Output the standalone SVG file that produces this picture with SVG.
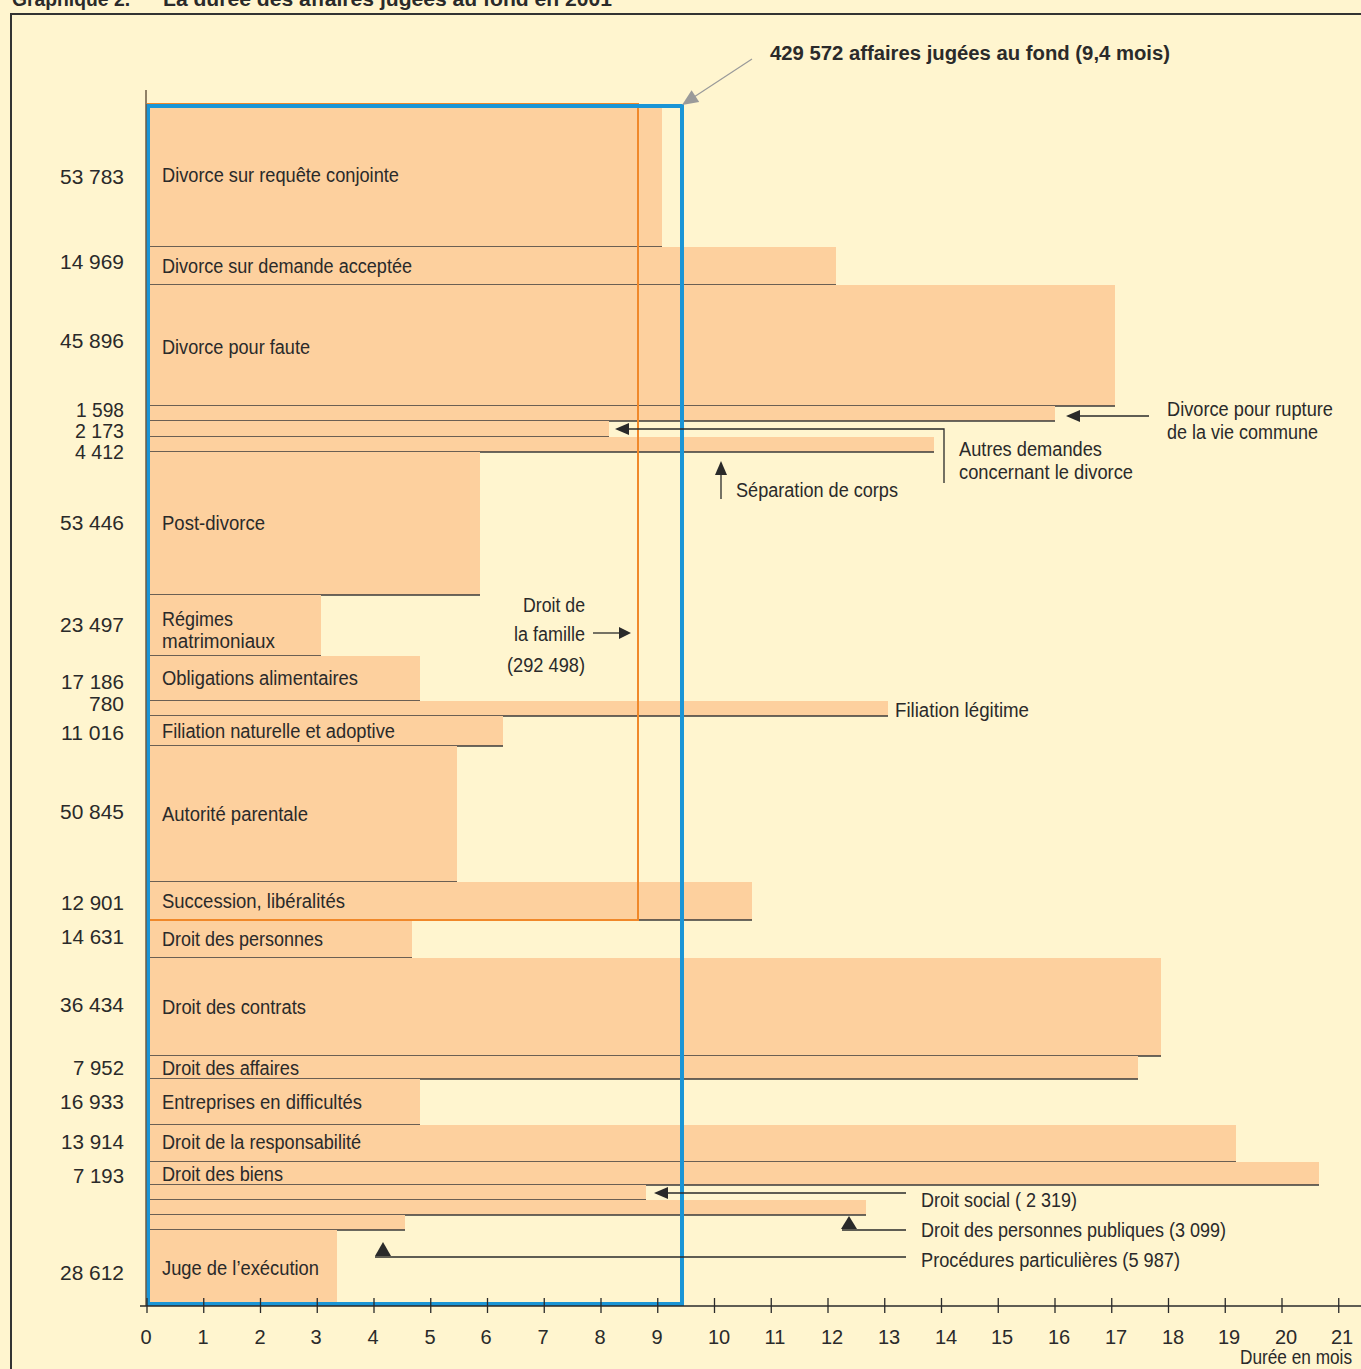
<svg xmlns="http://www.w3.org/2000/svg" width="1361" height="1369" viewBox="0 0 1361 1369">
<style>
.t{font-family:"Liberation Sans",Arial,sans-serif;font-size:20px;fill:#2a2a2a}
.b{font-weight:bold}
.n{text-anchor:end}
.m{text-anchor:middle}
.bar{fill:#FDD09E}
.bl{stroke:#3a3a3a;stroke-width:1.5;fill:none}
.cn{stroke:#2a2a2a;stroke-width:1.3;fill:none}
.ah{fill:#2a2a2a}
</style>
<rect x="0" y="0" width="1361" height="1369" fill="#FFF5CF"/>
<g id="title">
<text class="t b" x="12" y="6" font-size="21" textLength="118" lengthAdjust="spacingAndGlyphs">Graphique 2.</text>
<text class="t b" x="163" y="6" font-size="21" textLength="449" lengthAdjust="spacingAndGlyphs">La durée des affaires jugées au fond en 2001</text>
</g>
<g id="frame"><path d="M11 1369 V14 H1361" fill="none" stroke="#333" stroke-width="2"/></g>

<g id="bars">
<g id="n1"><rect class="bar" x="148" y="105" width="514" height="142"/><line class="bl" x1="149" y1="247" x2="662" y2="247"/>
<text class="t n" x="124" y="184" textLength="64" lengthAdjust="spacingAndGlyphs">53 783</text>
<text class="t" x="162" y="182" textLength="237" lengthAdjust="spacingAndGlyphs">Divorce sur requête conjointe</text></g>
<g id="n2"><rect class="bar" x="148" y="247" width="688" height="38"/><line class="bl" x1="149" y1="285" x2="836" y2="285"/>
<text class="t n" x="124" y="269" textLength="64" lengthAdjust="spacingAndGlyphs">14 969</text>
<text class="t" x="162" y="273" textLength="250" lengthAdjust="spacingAndGlyphs">Divorce sur demande acceptée</text></g>
<g id="n3"><rect class="bar" x="148" y="285" width="967" height="121"/><line class="bl" x1="149" y1="406" x2="1115" y2="406"/>
<text class="t n" x="124" y="348" textLength="64" lengthAdjust="spacingAndGlyphs">45 896</text>
<text class="t" x="162" y="354" textLength="148" lengthAdjust="spacingAndGlyphs">Divorce pour faute</text></g>
<g id="n4"><rect class="bar" x="148" y="406" width="907" height="15"/><line class="bl" x1="149" y1="421" x2="1055" y2="421"/>
<text class="t n" x="124" y="417" textLength="48" lengthAdjust="spacingAndGlyphs">1 598</text>
<text class="t" x="1167" y="416" textLength="166" lengthAdjust="spacingAndGlyphs">Divorce pour rupture</text>
<text class="t" x="1167" y="439" textLength="151" lengthAdjust="spacingAndGlyphs">de la vie commune</text></g>
<g id="n5"><rect class="bar" x="148" y="421" width="461" height="16"/><line class="bl" x1="149" y1="437" x2="609" y2="437"/>
<text class="t n" x="124" y="438" textLength="49" lengthAdjust="spacingAndGlyphs">2 173</text>
<text class="t" x="959" y="456" textLength="143" lengthAdjust="spacingAndGlyphs">Autres demandes</text>
<text class="t" x="959" y="479" textLength="174" lengthAdjust="spacingAndGlyphs">concernant le divorce</text></g>
<g id="n6"><rect class="bar" x="148" y="437" width="786" height="15"/><line class="bl" x1="149" y1="452" x2="934" y2="452"/>
<text class="t n" x="124" y="459" textLength="49" lengthAdjust="spacingAndGlyphs">4 412</text>
<text class="t" x="736" y="497" textLength="162" lengthAdjust="spacingAndGlyphs">Séparation de corps</text></g>
<g id="n7"><rect class="bar" x="148" y="452" width="332" height="143"/><line class="bl" x1="149" y1="595" x2="480" y2="595"/>
<text class="t n" x="124" y="530" textLength="64" lengthAdjust="spacingAndGlyphs">53 446</text>
<text class="t" x="162" y="530" textLength="103" lengthAdjust="spacingAndGlyphs">Post-divorce</text></g>
<g id="n8"><rect class="bar" x="148" y="595" width="173" height="61"/><line class="bl" x1="149" y1="656" x2="321" y2="656"/>
<text class="t n" x="124" y="632" textLength="64" lengthAdjust="spacingAndGlyphs">23 497</text>
<text class="t" x="162" y="626" textLength="71" lengthAdjust="spacingAndGlyphs">Régimes</text>
<text class="t" x="162" y="648" textLength="113" lengthAdjust="spacingAndGlyphs">matrimoniaux</text></g>
<g id="n9"><rect class="bar" x="148" y="656" width="272" height="45"/><line class="bl" x1="149" y1="701" x2="420" y2="701"/>
<text class="t n" x="124" y="689" textLength="63" lengthAdjust="spacingAndGlyphs">17 186</text>
<text class="t" x="162" y="685" textLength="196" lengthAdjust="spacingAndGlyphs">Obligations alimentaires</text></g>
<g id="n10"><rect class="bar" x="148" y="701" width="740" height="15"/><line class="bl" x1="149" y1="716" x2="888" y2="716"/>
<text class="t n" x="124" y="711" textLength="35" lengthAdjust="spacingAndGlyphs">780</text>
<text class="t" x="895" y="717" textLength="134" lengthAdjust="spacingAndGlyphs">Filiation légitime</text></g>
<g id="n11"><rect class="bar" x="148" y="716" width="355" height="30"/><line class="bl" x1="149" y1="746" x2="503" y2="746"/>
<text class="t n" x="124" y="740" textLength="63" lengthAdjust="spacingAndGlyphs">11 016</text>
<text class="t" x="162" y="738" textLength="233" lengthAdjust="spacingAndGlyphs">Filiation naturelle et adoptive</text></g>
<g id="n12"><rect class="bar" x="148" y="746" width="309" height="136"/><line class="bl" x1="149" y1="882" x2="457" y2="882"/>
<text class="t n" x="124" y="819" textLength="64" lengthAdjust="spacingAndGlyphs">50 845</text>
<text class="t" x="162" y="821" textLength="146" lengthAdjust="spacingAndGlyphs">Autorité parentale</text></g>
<g id="n13"><rect class="bar" x="148" y="882" width="604" height="38"/><line class="bl" x1="149" y1="920" x2="752" y2="920"/>
<text class="t n" x="124" y="910" textLength="63" lengthAdjust="spacingAndGlyphs">12 901</text>
<text class="t" x="162" y="908" textLength="183" lengthAdjust="spacingAndGlyphs">Succession, libéralités</text></g>
<g id="n14"><rect class="bar" x="148" y="920" width="264" height="38"/><line class="bl" x1="149" y1="958" x2="412" y2="958"/>
<text class="t n" x="124" y="944" textLength="63" lengthAdjust="spacingAndGlyphs">14 631</text>
<text class="t" x="162" y="946" textLength="161" lengthAdjust="spacingAndGlyphs">Droit des personnes</text></g>
<g id="n15"><rect class="bar" x="148" y="958" width="1013" height="98"/><line class="bl" x1="149" y1="1056" x2="1161" y2="1056"/>
<text class="t n" x="124" y="1012" textLength="64" lengthAdjust="spacingAndGlyphs">36 434</text>
<text class="t" x="162" y="1014" textLength="144" lengthAdjust="spacingAndGlyphs">Droit des contrats</text></g>
<g id="n16"><rect class="bar" x="148" y="1056" width="990" height="23"/><line class="bl" x1="149" y1="1079" x2="1138" y2="1079"/>
<text class="t n" x="124" y="1075" textLength="51" lengthAdjust="spacingAndGlyphs">7 952</text>
<text class="t" x="162" y="1075" textLength="137" lengthAdjust="spacingAndGlyphs">Droit des affaires</text></g>
<g id="n17"><rect class="bar" x="148" y="1079" width="272" height="46"/><line class="bl" x1="149" y1="1125" x2="420" y2="1125"/>
<text class="t n" x="124" y="1109" textLength="64" lengthAdjust="spacingAndGlyphs">16 933</text>
<text class="t" x="162" y="1109" textLength="200" lengthAdjust="spacingAndGlyphs">Entreprises en difficultés</text></g>
<g id="n18"><rect class="bar" x="148" y="1125" width="1088" height="37"/><line class="bl" x1="149" y1="1162" x2="1236" y2="1162"/>
<text class="t n" x="124" y="1149" textLength="63" lengthAdjust="spacingAndGlyphs">13 914</text>
<text class="t" x="162" y="1149" textLength="199" lengthAdjust="spacingAndGlyphs">Droit de la responsabilité</text></g>
<g id="n19"><rect class="bar" x="148" y="1162" width="1171" height="23"/><line class="bl" x1="149" y1="1185" x2="1319" y2="1185"/>
<text class="t n" x="124" y="1183" textLength="51" lengthAdjust="spacingAndGlyphs">7 193</text>
<text class="t" x="162" y="1181" textLength="121" lengthAdjust="spacingAndGlyphs">Droit des biens</text></g>
<g id="n20"><rect class="bar" x="148" y="1185" width="498" height="15"/><line class="bl" x1="149" y1="1200" x2="646" y2="1200"/>
<text class="t" x="921" y="1207" textLength="156" lengthAdjust="spacingAndGlyphs">Droit social ( 2 319)</text></g>
<g id="n21"><rect class="bar" x="148" y="1200" width="718" height="15"/><line class="bl" x1="149" y1="1215" x2="866" y2="1215"/>
<text class="t" x="921" y="1237" textLength="305" lengthAdjust="spacingAndGlyphs">Droit des personnes publiques (3 099)</text></g>
<g id="n22"><rect class="bar" x="148" y="1215" width="257" height="15"/><line class="bl" x1="149" y1="1230" x2="405" y2="1230"/>
<text class="t" x="921" y="1267" textLength="259" lengthAdjust="spacingAndGlyphs">Procédures particulières (5 987)</text></g>
<g id="n23"><rect class="bar" x="148" y="1230" width="189" height="75"/>
<text class="t n" x="124" y="1280" textLength="64" lengthAdjust="spacingAndGlyphs">28 612</text>
<text class="t" x="162" y="1275" textLength="157" lengthAdjust="spacingAndGlyphs">Juge de l’exécution</text></g>
</g>

<g id="famille">
<rect x="148" y="104" width="490" height="816" fill="none" stroke="#F0882A" stroke-width="2"/>
<text class="t n" x="585" y="612" textLength="62" lengthAdjust="spacingAndGlyphs">Droit de</text>
<text class="t n" x="585" y="641" textLength="71" lengthAdjust="spacingAndGlyphs">la famille</text>
<text class="t n" x="585" y="672" textLength="78" lengthAdjust="spacingAndGlyphs">(292 498)</text>
</g>

<g id="total">
<rect x="148" y="106" width="534" height="1198" fill="none" stroke="#1A95D6" stroke-width="4"/>
<text class="t b" x="770" y="60" font-size="22" textLength="400" lengthAdjust="spacingAndGlyphs">429 572 affaires jugées au fond (9,4 mois)</text>
</g>

<g id="axes">
<line x1="146" y1="90" x2="146" y2="1306" stroke="#6b5a45" stroke-width="1.5"/>
<line x1="140" y1="1306" x2="1361" y2="1306" stroke="#2a2a2a" stroke-width="1.5"/>
<path stroke="#2a2a2a" stroke-width="1.3" d="M147 1298V1313M203.75 1298V1313M260.5 1298V1313M317.25 1298V1313M374 1298V1313M430.75 1298V1313M487.5 1298V1313M544.25 1298V1313M601 1298V1313M657.75 1298V1313M714.5 1298V1313M771.25 1298V1313M828 1298V1313M884.75 1298V1313M941.5 1298V1313M998.25 1298V1313M1055 1298V1313M1111.75 1298V1313M1168.5 1298V1313M1225.25 1298V1313M1282 1298V1313M1338.75 1298V1313"/>
<g class="t m">
<text x="146" y="1344">0</text><text x="203" y="1344">1</text><text x="260" y="1344">2</text><text x="316" y="1344">3</text><text x="373" y="1344">4</text><text x="430" y="1344">5</text><text x="486" y="1344">6</text><text x="543" y="1344">7</text><text x="600" y="1344">8</text><text x="657" y="1344">9</text><text x="719" y="1344">10</text><text x="775" y="1344">11</text><text x="832" y="1344">12</text><text x="889" y="1344">13</text><text x="946" y="1344">14</text><text x="1002" y="1344">15</text><text x="1059" y="1344">16</text><text x="1116" y="1344">17</text><text x="1173" y="1344">18</text><text x="1229" y="1344">19</text><text x="1286" y="1344">20</text><text x="1342" y="1344">21</text>
</g>
<text class="t" x="1240" y="1364" font-size="19" textLength="112" lengthAdjust="spacingAndGlyphs">Durée en mois</text>
</g>

<g id="connectors">
<line x1="752" y1="59" x2="694" y2="97" stroke="#9a9a9a" stroke-width="1.2"/>
<polygon points="682,105 699.2,102.1 691.6,90.3" fill="#9a9a9a"/>
<line class="cn" x1="1080" y1="416" x2="1149" y2="416"/>
<polygon class="ah" points="1066,416 1080,410 1080,422"/>
<polyline class="cn" points="629,429 944,429 944,483"/>
<polygon class="ah" points="615,429 629,423 629,435"/>
<line class="cn" x1="721" y1="475" x2="721" y2="499"/>
<polygon class="ah" points="721,461 715,475 727,475"/>
<line class="cn" x1="593" y1="633" x2="620" y2="633"/>
<polygon class="ah" points="631,633 619,627 619,639"/>
<line class="cn" x1="667" y1="1193" x2="906" y2="1193"/>
<polygon class="ah" points="654,1193 668,1187 668,1199"/>
<line class="cn" x1="842" y1="1230" x2="906" y2="1230"/>
<polygon class="ah" points="849,1216 841,1229 857,1229"/>
<line class="cn" x1="375" y1="1257" x2="906" y2="1257"/>
<polygon class="ah" points="383,1242 375,1256 391,1256"/>
</g>
</svg>
